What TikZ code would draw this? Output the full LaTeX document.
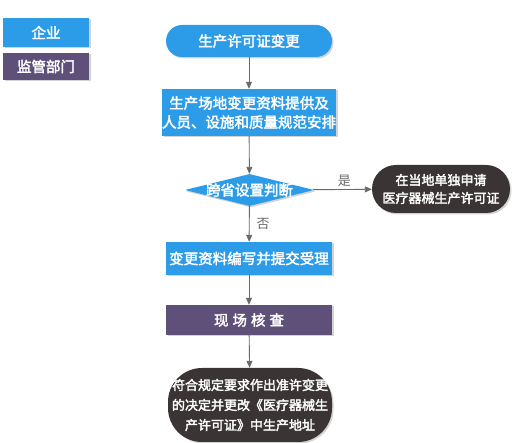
\documentclass[tikz,border=0pt]{standalone}
\usepackage{fontspec}
\newfontfamily\cjk[AutoFakeBold=2.5]{Noto Sans CJK SC}
\usetikzlibrary{shapes.geometric,shadows,arrows.meta}
\definecolor{qiye}{RGB}{44,156,232}
\definecolor{jianguan}{RGB}{95,80,122}
\definecolor{heise}{RGB}{58,52,52}
\definecolor{xian}{RGB}{105,105,105}
\tikzset{
    wz/.style={text=white,font=\cjk\bfseries\fontsize{14.5}{19}\selectfont,align=center,inner sep=0pt,
        drop shadow={opacity=0.35,shadow xshift=1.5pt,shadow yshift=-1.5pt}},
    lanhe/.style={wz,fill=qiye,minimum width=166pt},
    zihe/.style={wz,fill=jianguan,minimum width=166pt},
    heiyuan/.style={wz,fill=heise,font=\cjk\bfseries\fontsize{13}{18}\selectfont},
    biao/.style={font=\cjk\fontsize{13}{15}\selectfont,text=xian,inner sep=1pt},
    jt/.style={draw=xian,line width=0.9pt,-{Triangle[length=7pt,width=6pt]}}
}
\begin{document}
\begin{tikzpicture}[x=1pt,y=-1pt]
    \useasboundingbox (0,0) rectangle (512,443);
    % tuli
    \node[lanhe,minimum width=86pt,minimum height=29pt] (qy) at (46,32.5) {企业};
    \node[zihe,minimum width=86pt,minimum height=27pt] (jg) at (46,66.5) {监管部门};
    % liucheng
    \node[lanhe,minimum height=32pt,rounded corners=16pt] (bg) at (249,41) {生产许可证变更};
    \node[lanhe,minimum height=47pt] (zl) at (249,112.5) {生产场地变更资料提供及\\人员、设施和质量规范安排};
    \node[wz,fill=qiye,diamond,inner xsep=-40pt,inner ysep=-12pt,minimum width=129pt,minimum height=32pt] (pd) at (249.5,190) {跨省设置判断};
    \node[heiyuan,rounded corners=24pt,minimum width=138pt,minimum height=48pt] (sq) at (441,189) {在当地单独申请\\医疗器械生产许可证};
    \node[lanhe,minimum height=33pt] (tj) at (249,258.5) {变更资料编写并提交受理};
    \node[zihe,minimum height=30pt] (hc) at (249,320) {现\hspace{4pt}场\hspace{4pt}核\hspace{4pt}查};
    \node[heiyuan,rounded corners=34pt,minimum width=164pt,minimum height=74pt,font=\cjk\bfseries\fontsize{13}{20}\selectfont] (jd) at (250,405)
        {符合规定要求作出准许变更\\的决定并更改《医疗器械生\\产许可证》中生产地址};
    % jiantou
    \draw[jt] (bg) -- (zl);
    \draw[jt] (zl) -- (pd);
    \draw[jt] (pd) -- node[biao,above=2pt,xshift=2pt] {是} (sq);
    \draw[jt] (pd) -- node[biao,right=6pt] {否} (tj);
    \draw[jt] (tj) -- (hc);
    \draw[jt] (hc) -- (jd);
\end{tikzpicture}
\end{document}
